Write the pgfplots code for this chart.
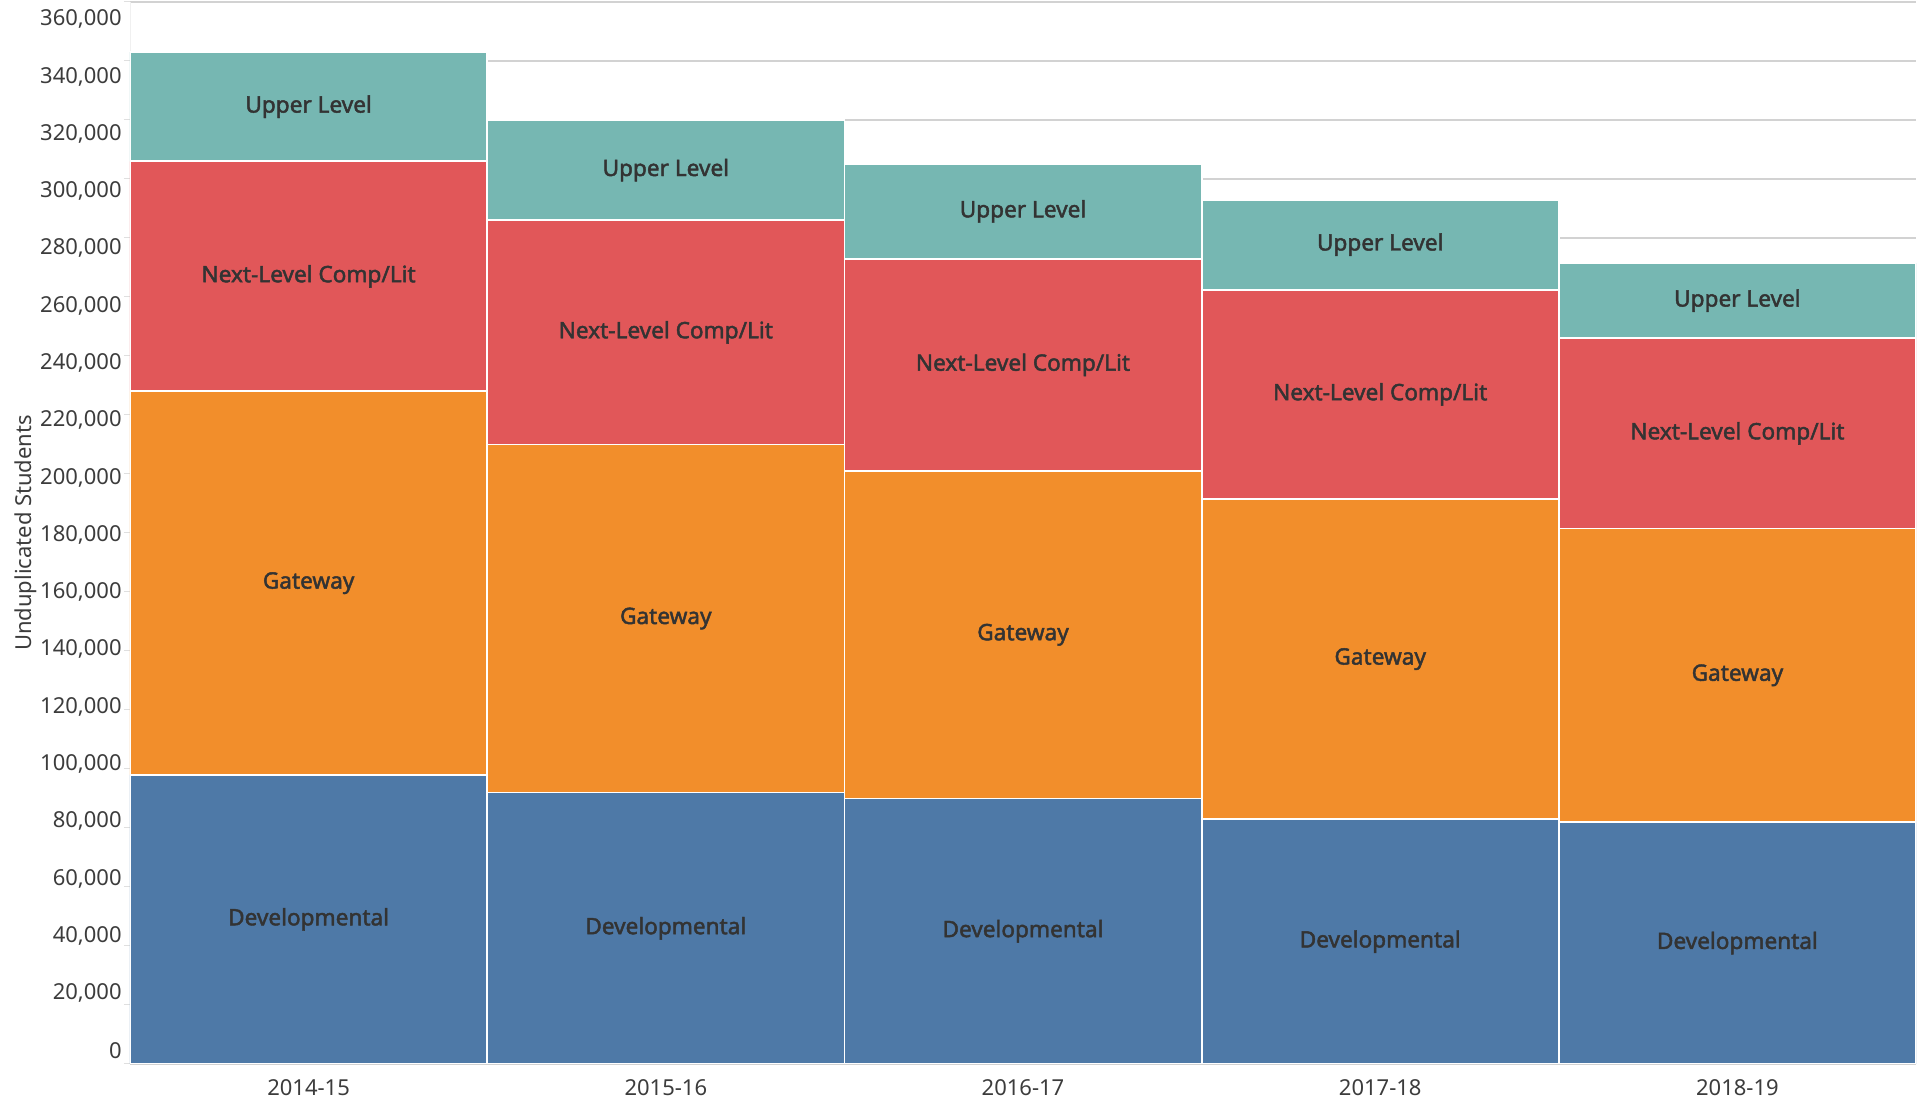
\documentclass[border=0pt]{standalone}
\usepackage{pgfplots}
\pgfplotsset{compat=1.18}
\usepackage{pgfplotstable}
\usepackage{fontspec}
\setmainfont{Noto Sans}
\newfontfamily\labfont{Noto Sans}[FakeBold=2]
\usetikzlibrary{calc}
\definecolor{cDev}{HTML}{4E79A7}
\definecolor{cGate}{HTML}{F28E2B}
\definecolor{cNext}{HTML}{E15759}
\definecolor{cUpper}{HTML}{76B7B2}
\definecolor{txt}{HTML}{333333}
\definecolor{tick}{HTML}{3C3C3C}
\definecolor{gridc}{HTML}{D2D2D2}

\pgfplotstableread{
x dev gate next upper
0 98000 130000 78000 37000
1 92000 118000 76000 34000
2 90000 111000 72000 32000
3 83000 108500 71000 30500
4 82000 99500 64500 25500
}\data

\pgfplotstableread[col sep=comma]{
x,y,label
0,49000,Developmental
1,46000,Developmental
2,45000,Developmental
3,41500,Developmental
4,41000,Developmental
0,163000,Gateway
1,151000,Gateway
2,145500,Gateway
3,137250,Gateway
4,131750,Gateway
0,267000,Next-Level Comp/Lit
1,248000,Next-Level Comp/Lit
2,237000,Next-Level Comp/Lit
3,227000,Next-Level Comp/Lit
4,213750,Next-Level Comp/Lit
0,324500,Upper Level
1,303000,Upper Level
2,289000,Upper Level
3,277750,Upper Level
4,258750,Upper Level
}\labels

\pgfplotsset{
  common/.style={
    scale only axis, width=893pt, height=531pt,
    xmin=-0.5, xmax=4.5, ymin=0, ymax=360000,
  }
}

\begin{document}
\begin{tikzpicture}
\begin{axis}[
  common,
  ybar stacked, bar width=1,
  axis lines*=left,
  x axis line style={draw=none},
  y axis line style={draw=gray!12},
  xtick={0,1,2,3,4},
  xticklabels={2014-15,2015-16,2016-17,2017-18,2018-19},
  x tick style={draw=none},
  ytick={0,20000,...,360000},
  y tick style={draw=gray!25, line width=0.5pt},
  tick align=outside, major tick length=3pt,
  scaled y ticks=false,
  /pgf/number format/fixed,
  /pgf/number format/1000 sep={,},
  /pgf/number format/assume math mode=true,
  ticklabel style={font=\fontsize{11pt}{13pt}\selectfont, text=tick},
  yticklabel style={inner sep=1pt, yshift={(6.8-15.4*\ticknum/18)*1pt}},
  xticklabel style={yshift=-1pt},
  ymajorgrids, grid style={gridc, line width=0.6pt},
  ylabel={Unduplicated Students},
  every axis y label/.style={at={(rel axis cs:0,0.5)}, xshift=-52pt, rotate=90, anchor=center,
    font=\fontsize{11pt}{13pt}\selectfont, text=tick},
]
\addplot[fill=cDev, draw=white, line width=0.9pt] table[x=x,y=dev]{\data};
\addplot[fill=cGate, draw=white, line width=0.9pt] table[x=x,y=gate]{\data};
\addplot[fill=cNext, draw=white, line width=0.9pt] table[x=x,y=next]{\data};
\addplot[fill=cUpper, draw=white, line width=0.9pt] table[x=x,y=upper]{\data};
\end{axis}
\begin{axis}[
  common, hide axis, clip=false,
]
\addplot[draw=none, mark=none, nodes near coords, nodes near coords align=center,
  point meta=explicit symbolic,
  every node near coord/.append style={anchor=center, text=txt,
    font=\fontsize{11.3pt}{13pt}\labfont}]
  table[x=x,y=y,meta=label,col sep=comma]{\labels};
\end{axis}
\pgfresetboundingbox
\path ($(current axis.south west)+(-65pt,-18.5pt)$) rectangle ($(current axis.north east)+(5.5pt,1pt)$);
\end{tikzpicture}
\end{document}
